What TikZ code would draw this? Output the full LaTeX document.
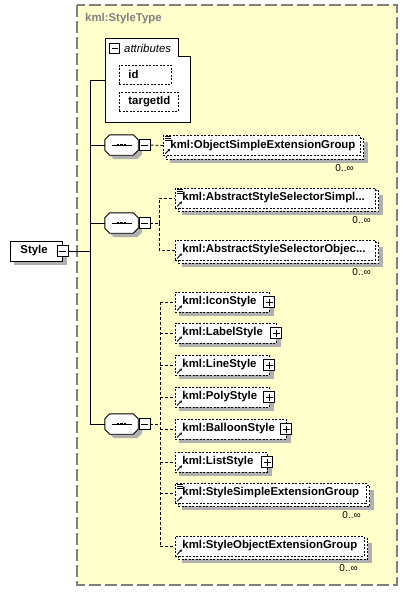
\documentclass[tikz,border=0pt]{standalone}
\usepackage{fontspec}
\setmainfont{Liberation Sans}
\usetikzlibrary{arrows.meta}
\definecolor{yel}{RGB}{255,255,204}
\definecolor{shadowgray}{RGB}{176,176,176}
\definecolor{framec}{RGB}{128,128,128}
\pgfdeclarelayer{backl}
\pgfdeclarelayer{shadl}
\pgfdeclarelayer{midl}
\pgfsetlayers{backl,shadl,midl,main}
\begin{document}
\begin{tikzpicture}[x=1pt,y=-1pt,
  lbl/.style={font=\bfseries\fontsize{11.4}{13}\selectfont},
  elem/.style={lbl, draw, dash pattern=on 2pt off 1.5pt, line width=0.9pt, fill=white,
    anchor=west, minimum height=20pt, inner xsep=7pt, inner ysep=0pt,
    text width=#1, align=left},
  backbox/.style={draw, dash pattern=on 2pt off 1.5pt, line width=0.9pt, fill=white},
  shadowfill/.style={fill=shadowgray},
  solidbox/.style={lbl, draw, line width=0.9pt, fill=white, anchor=west,
    minimum height=20pt, inner xsep=10pt, inner ysep=0pt, text width=#1, align=left},
  pm/.style={draw, fill=white, line width=0.9pt, minimum size=11pt, inner sep=0pt},
  minus/.style={pm, path picture={\draw[line width=0.9pt]
     ([xshift=-3.5pt]path picture bounding box.center) -- ([xshift=3.5pt]path picture bounding box.center);}},
  plus/.style={pm, path picture={\draw[line width=0.9pt]
     ([xshift=-3.5pt]path picture bounding box.center) -- ([xshift=3.5pt]path picture bounding box.center)
     ([yshift=-3.5pt]path picture bounding box.center) -- ([yshift=3.5pt]path picture bounding box.center);}},
  seqanchor/.style={minimum width=33pt, minimum height=20pt, inner sep=0pt},
  octa/.style={line width=0.9pt},
  conn/.style={line width=0.9pt, dash pattern=on 3pt off 2pt},
  trunk/.style={line width=0.9pt},
  card/.style={font=\fontsize{10}{12}\selectfont, anchor=east, inner sep=0pt},
  refarrow/.style={line width=0.8pt, -{Stealth[length=2.5pt,width=2.8pt]}},
  simpleicon/.style={line width=0.7pt}
]
\useasboundingbox (0,0) rectangle (407,592);
\begin{pgfonlayer}{backl}
\fill[white] (0,0) rectangle (407,592);
\draw[framec, fill=yel, line width=1.2pt, dash pattern=on 12pt off 4pt] (77,5) rectangle (397,585);
\end{pgfonlayer}
\node[lbl, text=framec, anchor=west, inner sep=0pt] (tt) at (85,19) {kml:StyleType};

% Style element
\node[solidbox=32pt] (style) at (10,251) {Style};
\node[minus] (stm) at (style.east) {};

% attributes box
\draw[line width=0.9pt, fill=white] (105,38) -- (178,38) -- (178,56) -- (190,56) -- (190,122) -- (105,122) -- cycle;
\node[pm, minimum size=9.5pt, path picture={\draw[line width=0.9pt]
     ([xshift=-3pt]path picture bounding box.center) -- ([xshift=3pt]path picture bounding box.center);}] (am) at (114.5,48.5) {};
\node[font=\itshape\fontsize{11.4}{13}\selectfont, anchor=west, inner sep=0pt] (atl) at (124,48) {attributes};
\coordinate (attr) at (105,80);
\node[elem=34pt, inner xsep=9pt, minimum height=19pt] (id) at (119,74.5) {id};
\node[elem=41pt, inner xsep=9pt, minimum height=19pt] (tid) at (119,101.5) {targetId};

% sequences (octagons)
\foreach \n/\y in {s1/145, s2/223, s3/424}{
  \node[seqanchor] (\n) at (121.5,\y) {};
  \fill[shadowgray] ([xshift=9pt,yshift=-4pt]\n.north west) -- ([xshift=-1pt,yshift=-4pt]\n.north east)
    -- ([xshift=4pt,yshift=-9pt]\n.north east) -- ([xshift=4pt,yshift=1pt]\n.south east)
    -- ([xshift=-1pt,yshift=-4pt]\n.south east) -- ([xshift=9pt,yshift=-4pt]\n.south west)
    -- ([xshift=4pt,yshift=1pt]\n.south west) -- ([xshift=4pt,yshift=-9pt]\n.north west) -- cycle;
  \draw[octa, fill=white] ([xshift=5pt]\n.north west) -- ([xshift=-5pt]\n.north east)
    -- ([yshift=-5pt]\n.north east) -- ([yshift=5pt]\n.south east)
    -- ([xshift=-5pt]\n.south east) -- ([xshift=5pt]\n.south west)
    -- ([yshift=5pt]\n.south west) -- ([yshift=-5pt]\n.north west) -- cycle;
  \draw[line width=0.9pt] ([xshift=-10pt]\n.center) -- ([xshift=10pt]\n.center);
  \foreach \d in {-3.5,0,3.5}
    \fill ([xshift=\d pt]\n.center) +(-1.4,-1.4) rectangle +(1.4,1.4);
  \node[minus] (\n m) at (144.5,\y) {};
}

% trunk
\coordinate (t) at (90,251);
\draw[trunk] (stm.east) -- (t);
\draw[trunk] (t |- attr) -- (t |- s3.west);
\draw[trunk] (t |- attr) -- (attr);
\draw[trunk] (t |- s1.west) -- (s1.west);
\draw[trunk] (t |- s2.west) -- (s2.west);
\draw[trunk] (t |- s3.west) -- (s3.west);

% sequence 1
\node[elem=183pt] (e1) at (163,145.5) {kml:ObjectSimpleExtensionGroup};
\node[card] (c1) at ([xshift=-7pt,yshift=-12pt]e1.south east) {0..∞};
\draw[conn] (s1m.east) -- (e1.west);

% sequence 2
\node[elem=186pt] (e2) at (175,198) {kml:AbstractStyleSelectorSimpl...};
\node[card] (c2) at ([xshift=-5pt,yshift=-12pt]e2.south east) {0..∞};
\node[elem=186pt] (e3) at (175,250) {kml:AbstractStyleSelectorObjec...};
\node[card] (c3) at ([xshift=-5pt,yshift=-12pt]e3.south east) {0..∞};
\coordinate (b2) at (159,223);
\draw[conn] (s2m.east) -- (b2);
\draw[conn] (b2) |- (e2.west);
\draw[conn] (b2) |- (e3.west);

% sequence 3
\node[elem=80pt] (e4) at (175,302) {kml:IconStyle};
\node[elem=87pt] (e5) at (175,333) {kml:LabelStyle};
\node[elem=80pt] (e6) at (175,365) {kml:LineStyle};
\node[elem=80pt] (e7) at (175,397) {kml:PolyStyle};
\node[elem=97pt] (e8) at (175,429) {kml:BalloonStyle};
\node[elem=78pt] (e9) at (175,462) {kml:ListStyle};
\node[elem=177pt] (e10) at (175,493) {kml:StyleSimpleExtensionGroup};
\node[card] (c10) at ([xshift=-6pt,yshift=-12pt]e10.south east) {0..∞};
\node[elem=175pt] (e11) at (175,546) {kml:StyleObjectExtensionGroup};
\node[card] (c11) at ([xshift=-7pt,yshift=-12pt]e11.south east) {0..∞};
\foreach \e in {e4,e5,e6,e7,e8,e9}
  \node[plus] (p\e) at ([xshift=-0.5pt]\e.east) {};

\coordinate (b3) at (160,424);
\draw[conn] (s3m.east) -- (b3);
\draw[conn] (b3 |- e4.west) -- (b3 |- e11.west);
\foreach \e in {e4,e5,e6,e7,e8,e9,e10,e11}
  \draw[conn] (b3 |- \e.west) -- (\e.west);

% shadows and stacked boxes
\begin{pgfonlayer}{shadl}
\foreach \e in {style,id,tid,e4,e5,e6,e7,e8,e9}
  \fill[shadowfill] ([xshift=4pt,yshift=-4pt]\e.north west) rectangle ([xshift=4pt,yshift=-4pt]\e.south east);
\foreach \e in {e1,e2,e3,e10,e11}
  \fill[shadowfill] ([xshift=7pt,yshift=-7pt]\e.north west) rectangle ([xshift=7pt,yshift=-7pt]\e.south east);
\end{pgfonlayer}
\begin{pgfonlayer}{midl}
\foreach \e in {e1,e2,e3,e10,e11}
  \draw[backbox] ([xshift=3pt,yshift=-3pt]\e.north west) rectangle ([xshift=3pt,yshift=-3pt]\e.south east);
\end{pgfonlayer}

% reference arrows
\foreach \e in {e1,e2,e3,e4,e5,e6,e7,e8,e9,e10,e11}
  \draw[refarrow] ([xshift=2pt,yshift=2pt]\e.south west) -- ++(5,-5);
% simple content icons
\foreach \e in {e1,e2,e10}
  \foreach \k in {1.5,3.5,5.5}
    \draw[simpleicon] ([xshift=2pt,yshift=-\k pt]\e.north west) -- ++(5.5,0);
\end{tikzpicture}
\end{document}
